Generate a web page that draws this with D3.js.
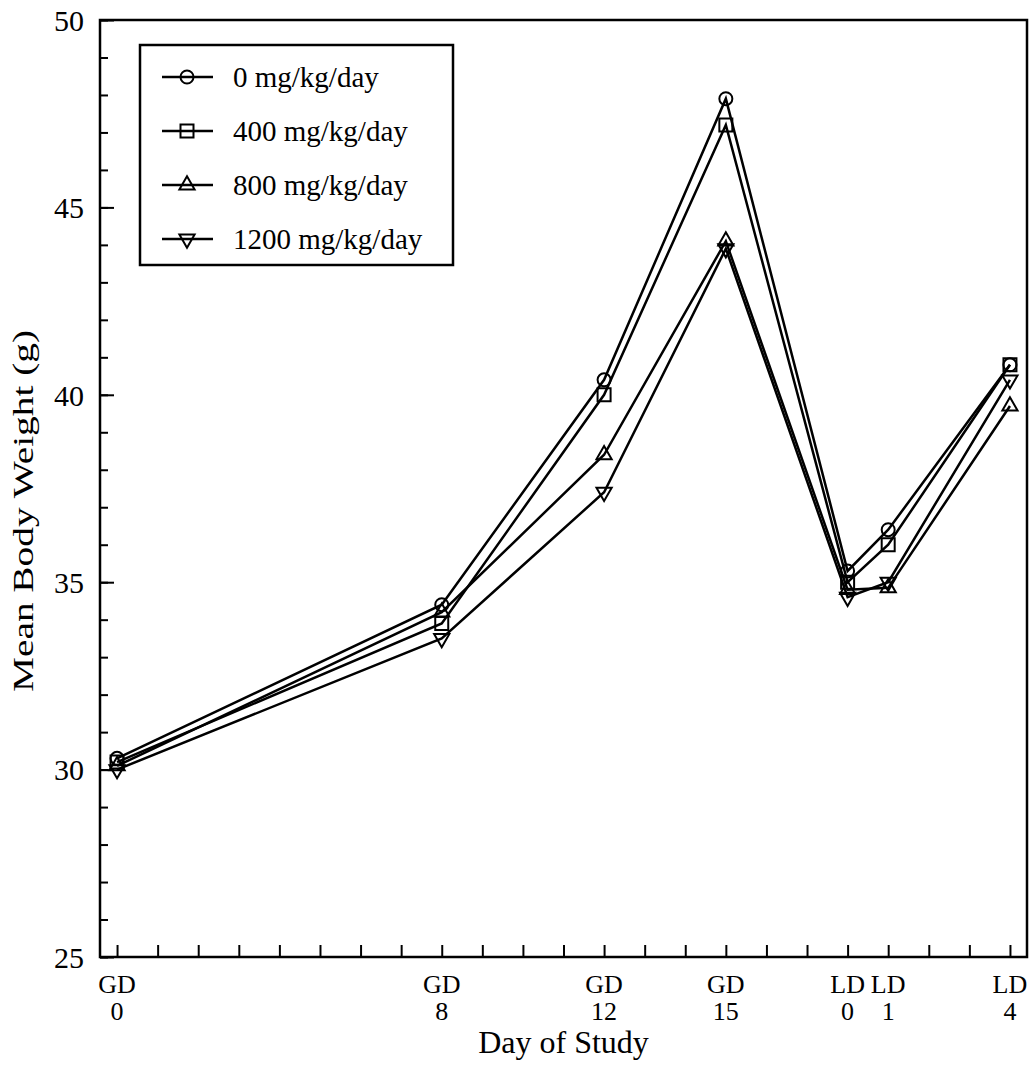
<!DOCTYPE html>
<html>
<head>
  <style>
    body {
      margin: 0;
      background: white;
    }
    text {
      font-family: "Liberation Serif", "Times New Roman", serif;
      fill: black;
    }
    .axis path, .axis line {
      stroke: black;
    }
  </style>
</head>
<body>
  <script src="https://d3js.org/d3.v7.min.js"></script>
  <script>
    var width = 1030, height = 1065;

    // study days (GD 0 = day 0, LD 0 = day 18)
    var days = [0, 8, 12, 15, 18, 19, 22];
    var dayLabels = [["GD", "0"], ["GD", "8"], ["GD", "12"], ["GD", "15"], ["LD", "0"], ["LD", "1"], ["LD", "4"]];
    var doseNames = ["0 mg/kg/day", "400 mg/kg/day", "800 mg/kg/day", "1200 mg/kg/day"];
    var dose0 = [30.3, 34.4, 40.4, 47.9, 35.3, 36.4, 40.8];
    var dose400 = [30.2, 33.9, 40.0, 47.2, 35.0, 36.0, 40.8];
    var dose800 = [30.1, 34.2, 38.4, 44.1, 34.8, 34.85, 39.7];
    var dose1200 = [30.0, 33.5, 37.4, 43.9, 34.6, 35.0, 40.4];
    var yMajor = [25, 30, 35, 40, 45, 50];

    var series = [dose0, dose400, dose800, dose1200];
    var symbols = [
      d3.symbol().type(d3.symbolCircle).size(133),
      d3.symbol().type(d3.symbolSquare).size(169),
      d3.symbol().type(d3.symbolTriangle).size(100),
      d3.symbol().type(d3.symbolTriangle).size(100)
    ];
    var rotate = [0, 0, 0, 180];

    var plotLeft = 100, plotRight = 1027, plotTop = 20, plotBottom = 957;

    var x = d3.scaleLinear().domain([-0.42, 22.42]).range([plotLeft, plotRight]);
    var y = d3.scaleLinear().domain([25, 50]).range([plotBottom, plotTop]);

    var svg = d3.select("body").append("svg")
        .attr("width", width)
        .attr("height", height);

    // frame
    svg.append("rect")
        .attr("x", plotLeft).attr("y", plotTop)
        .attr("width", plotRight - plotLeft).attr("height", plotBottom - plotTop)
        .attr("fill", "none").attr("stroke", "black").attr("stroke-width", 2.5);

    // y minor ticks
    svg.append("g")
        .attr("class", "axis")
        .attr("transform", "translate(" + plotLeft + ",0)")
        .call(d3.axisLeft(y).tickValues(d3.range(25, 51)).tickSize(-8).tickFormat(""))
        .call(g => g.select(".domain").remove())
        .selectAll("line").attr("stroke-width", 2);

    // y major ticks with labels
    var yAxis = svg.append("g")
        .attr("class", "axis")
        .attr("transform", "translate(" + plotLeft + ",0)")
        .call(d3.axisLeft(y).tickValues(yMajor).tickSize(-14).tickPadding(16).tickFormat(d3.format("d")))
        .call(g => g.select(".domain").remove());
    yAxis.selectAll("line").attr("stroke-width", 2);
    yAxis.selectAll("text")
        .attr("font-size", 30)
        .attr("font-family", "Liberation Serif")
        .attr("dy", "0.34em");

    // x ticks, one per day
    svg.append("g")
        .attr("class", "axis")
        .attr("transform", "translate(0," + plotBottom + ")")
        .call(d3.axisBottom(x).tickValues(d3.range(0, 23)).tickSize(-12).tickFormat(""))
        .call(g => g.select(".domain").remove())
        .selectAll("line").attr("stroke-width", 2);

    // x labels, two lines
    var xl = svg.append("g").selectAll("text")
        .data(days)
      .enter().append("text")
        .attr("x", d => x(d))
        .attr("y", 993)
        .attr("text-anchor", "middle")
        .attr("font-size", 26);
    xl.append("tspan")
        .attr("x", d => x(d))
        .text((d, i) => dayLabels[i][0]);
    xl.append("tspan")
        .attr("x", d => x(d))
        .attr("dy", 27)
        .text((d, i) => dayLabels[i][1]);

    svg.append("text")
        .attr("x", (plotLeft + plotRight) / 2)
        .attr("y", 1053)
        .attr("text-anchor", "middle")
        .attr("font-size", 32)
        .text("Day of Study");

    svg.append("text")
        .attr("transform", "translate(33,511) rotate(-90)")
        .attr("text-anchor", "middle")
        .attr("font-size", 30)
        .attr("textLength", 362)
        .attr("lengthAdjust", "spacingAndGlyphs")
        .text("Mean Body Weight (g)");

    // lines
    var line = d3.line()
        .x((d, i) => x(days[i]))
        .y(d => y(d));

    svg.append("g").selectAll("path")
        .data(series)
      .enter().append("path")
        .attr("d", line)
        .attr("fill", "none")
        .attr("stroke", "black")
        .attr("stroke-width", 2.5);

    // markers
    series.forEach((s, k) => {
      svg.append("g").selectAll("path")
          .data(s)
        .enter().append("path")
          .attr("d", symbols[k])
          .attr("transform", (d, i) => "translate(" + x(days[i]) + "," + y(d) + ") rotate(" + rotate[k] + ")")
          .attr("fill", "none")
          .attr("stroke", "black")
          .attr("stroke-width", 2);
    });

    // legend
    var legend = svg.append("g");
    legend.append("rect")
        .attr("x", 140).attr("y", 45)
        .attr("width", 313).attr("height", 220)
        .attr("fill", "white").attr("stroke", "black").attr("stroke-width", 2.5);

    var rows = legend.selectAll("g.row")
        .data(doseNames)
      .enter().append("g")
        .attr("class", "row")
        .attr("transform", (d, i) => "translate(0," + (77 + i * 54) + ")");
    rows.append("line")
        .attr("x1", 162).attr("x2", 213)
        .attr("stroke", "black").attr("stroke-width", 2.5);
    rows.append("path")
        .attr("d", (d, i) => symbols[i]())
        .attr("transform", (d, i) => "translate(187,0) rotate(" + rotate[i] + ")")
        .attr("fill", "none").attr("stroke", "black").attr("stroke-width", 2);
    rows.append("text")
        .attr("x", 233)
        .attr("dy", "0.34em")
        .attr("font-size", 29)
        .text(d => d);
  </script>
</body>
</html>
